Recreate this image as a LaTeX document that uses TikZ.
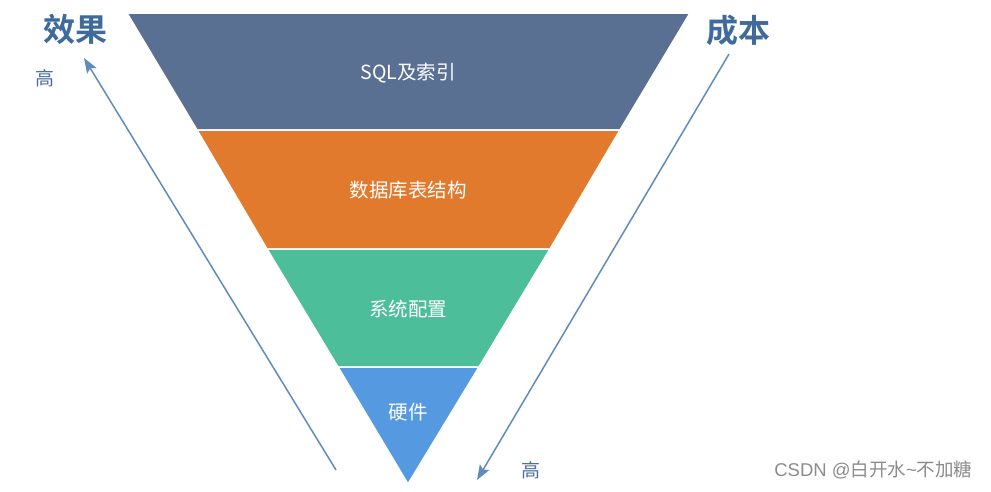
\documentclass[tikz,border=0pt]{standalone}
\usepackage{fontspec}
\setmainfont{Noto Sans CJK SC}
\newfontfamily\cjk{Noto Sans CJK SC}
\newfontfamily\cjkb{Noto Sans CJK SC Bold}
\usetikzlibrary{arrows.meta}
\definecolor{cSlate}{HTML}{5A7093}
\definecolor{cOrange}{HTML}{E17A2D}
\definecolor{cGreen}{HTML}{4DBE9A}
\definecolor{cBlue}{HTML}{5599E0}
\definecolor{cArrow}{HTML}{5F8CBC}
\definecolor{cTitle}{HTML}{3E6A9C}
\definecolor{cMark}{HTML}{4A6F9A}
\begin{document}
\begin{tikzpicture}[x=1pt,y=-1pt,
  layer/.style={draw=white,line width=1.5pt},
  lab/.style={text=white,font=\cjk\fontsize{19.5}{22}\selectfont},
  titletext/.style={text=cTitle,font=\cjkb\fontsize{32}{36}\selectfont},
  hightext/.style={text=cMark,font=\cjk\fontsize{19}{21}\selectfont},
  conn/.style={draw=cArrow,line width=1.5pt,-{Stealth[length=15pt,width=11pt,inset=3pt]}}]
\useasboundingbox (0,0) rectangle (991,491);
\fill[white] (0,0) rectangle (991,491);
% layers
\path[layer,fill=cSlate] (127,13) -- (690,13) -- (620,130) -- (197,130) -- cycle;
\path[layer,fill=cOrange] (197,130) -- (620,130) -- (550,249) -- (267,249) -- cycle;
\path[layer,fill=cGreen] (267,249) -- (550,249) -- (479,367) -- (338,367) -- cycle;
\path[layer,fill=cBlue] (338,367) -- (479,367) -- (408,484) -- cycle;
\node[lab] (l1) at (408,73) {SQL及索引};
\node[lab] (l2) at (408,190) {数据库表结构};
\node[lab] (l3) at (408,309) {系统配置};
\node[lab] (l4) at (408,412) {硬件};
% titles
\node[titletext] (eff) at (75,29) {效果};
\node[titletext] (cost) at (738,30) {成本};
\node[hightext] (hi1) at (45,78) {高};
\node[hightext] (hi2) at (531,470) {高};
% arrows
\coordinate (a1s) at (336,470);
\coordinate (a1e) at (84,58);
\coordinate (a2s) at (729,54);
\coordinate (a2e) at (477,480);
\draw[conn] (a1s) -- (a1e);
\draw[conn] (a2s) -- (a2e);
% watermark
\node[text=black!45,font=\fontspec{Liberation Sans}\fontsize{18.5}{20}\selectfont,anchor=east] (wm) at (976,470) {CSDN @{\cjk 白开水}\char"007E{\cjk 不加糖}};
\end{tikzpicture}
\end{document}
